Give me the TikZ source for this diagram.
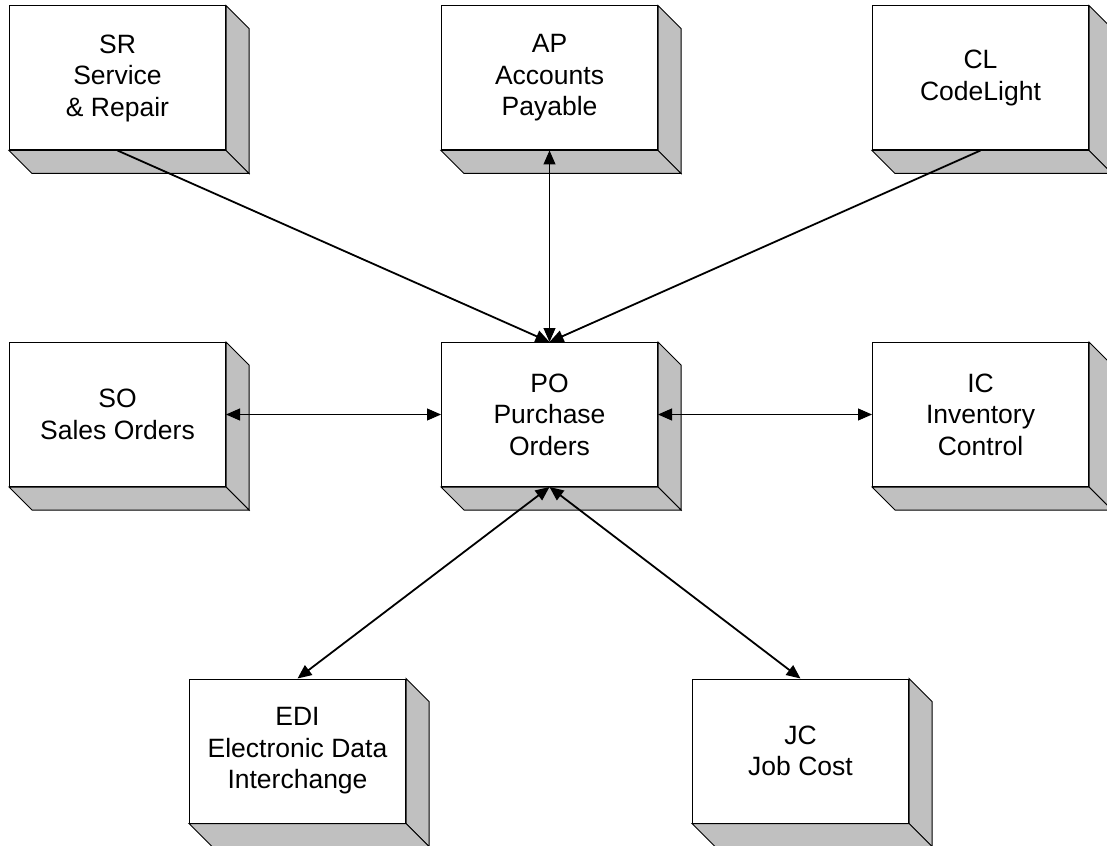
\documentclass[tikz,border=0pt]{standalone}
\usepackage{fontspec}
\setmainfont{Liberation Sans}
\usetikzlibrary{arrows.meta,calc}
\definecolor{sidegray}{HTML}{C0C0C0}
\tikzset{
  box/.style={draw=black, line width=1pt, fill=white, minimum width=216pt, minimum height=144pt,
    inner sep=0pt, align=center, font=\fontsize{26.5}{31.5}\selectfont},
  face/.style={fill=sidegray, draw=black, line width=1pt, line join=miter},
  straightline/.style={line width=1pt},
  diagline/.style={line width=1.8pt},
  bothtip/.style={{Triangle[length=14pt,width=12pt]}-{Triangle[length=14pt,width=12pt]}},
  endtip/.style={-{Triangle[length=14pt,width=12pt]}},
}
\begin{document}
\begin{tikzpicture}[x=1pt,y=-1pt]
\useasboundingbox (0,0) rectangle (1107,845);
\clip (0,0) rectangle (1107,845);
\fill[white] (0,0) rectangle (1107,845);

\node[box] (SR) at (117.5,78) {SR\\Service\\\& Repair};
\node[box] (AP) at (549.5,78) {AP\\Accounts\\Payable};
\node[box] (CL) at (980.5,78) {CL\\CodeLight};
\node[box] (SO) at (117.5,414.5) {SO\\Sales Orders};
\node[box] (PO) at (549.5,414.5) {PO\\Purchase\\Orders};
\node[box] (IC) at (980.5,414.5) {IC\\Inventory\\Control};
\node[box] (EDI) at (297.5,751) {EDI\\Electronic Data\\Interchange};
\node[box] (JC) at (800.5,751) {JC\\Job Cost};

\foreach \n in {SR,AP,CL,SO,PO,IC,EDI,JC}{
  \path[face] (\n.north east) -- ++(23,23) -- ($(\n.south east)+(23,23)$) -- (\n.south east) -- cycle;
  \path[face] (\n.south west) -- (\n.south east) -- ++(23,23) -- ($(\n.south west)+(23,23)$) -- cycle;
}

\draw[diagline, endtip] (SR.south) -- (PO.north);
\draw[diagline, endtip] (CL.south) -- (PO.north);
\draw[straightline, bothtip] (AP.south) -- (PO.north);
\draw[straightline, bothtip] (SO.east) -- (PO.west);
\draw[straightline, bothtip] (PO.east) -- (IC.west);
\draw[diagline, bothtip] (PO.south) -- (EDI.north);
\draw[diagline, bothtip] (PO.south) -- (JC.north);
\end{tikzpicture}
\end{document}
